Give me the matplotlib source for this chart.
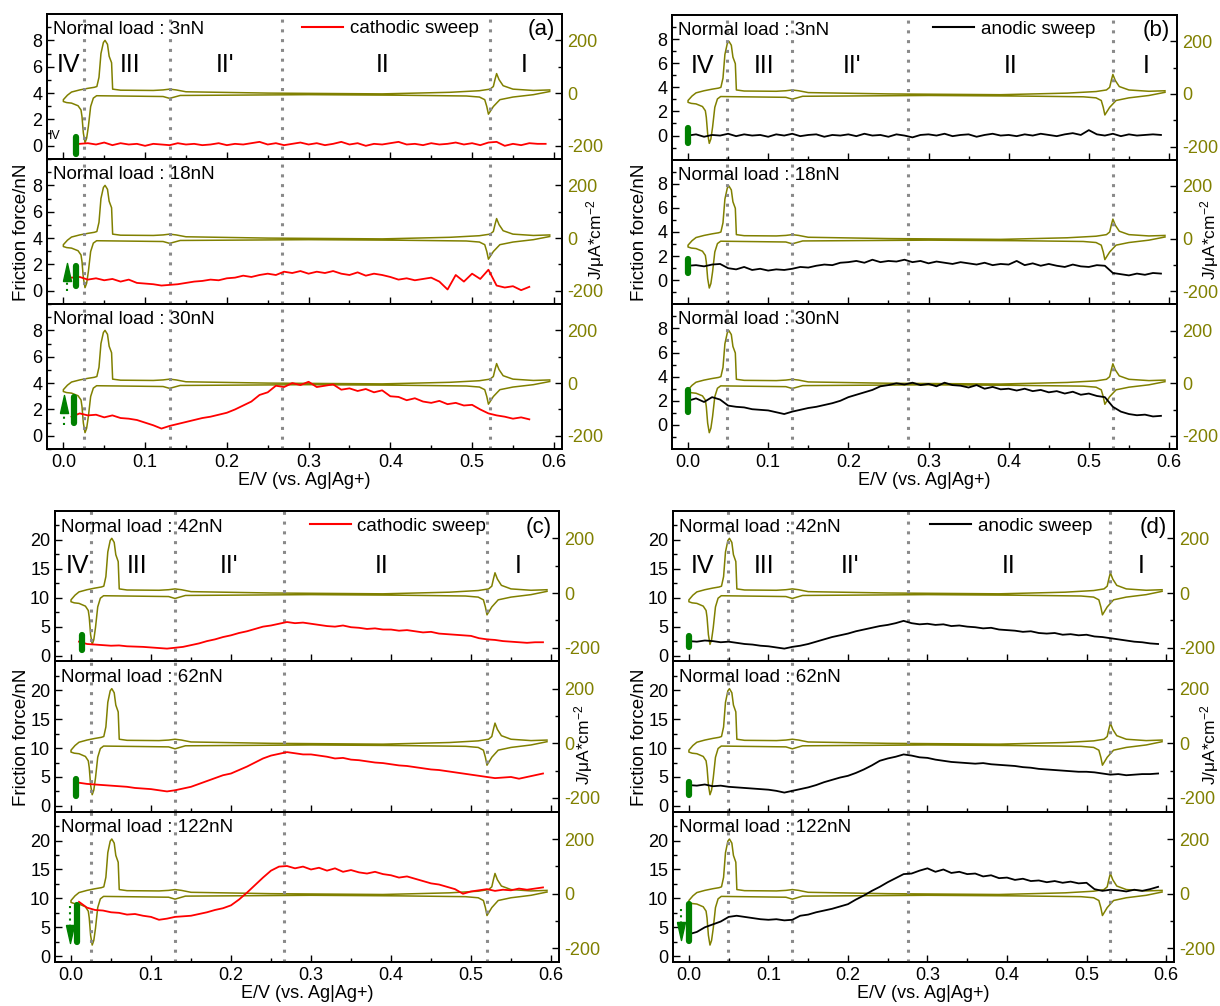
import matplotlib
matplotlib.use("Agg")
import matplotlib.pyplot as plt
import numpy as np
from matplotlib.lines import Line2D
from matplotlib.ticker import FixedLocator, MultipleLocator, FormatStrFormatter

plt.rcParams["font.family"] = ["Liberation Sans", "DejaVu Sans"]
plt.rcParams["axes.unicode_minus"] = False
plt.rcParams["mathtext.fontset"] = "custom"
plt.rcParams["mathtext.rm"] = "Liberation Sans"
plt.rcParams["mathtext.it"] = "Liberation Sans:italic"

OLIVE = "#808000"
GREEN = "#008000"
GREY = "#8a8a8a"

# potential grid of the friction traces (V vs. Ag|Ag+)
E_GRID = [0.00, 0.01, 0.02, 0.03, 0.04, 0.05, 0.06, 0.07, 0.08, 0.09,
          0.10, 0.11, 0.12, 0.13, 0.14, 0.15, 0.16, 0.17, 0.18, 0.19,
          0.20, 0.21, 0.22, 0.23, 0.24, 0.25, 0.26, 0.27, 0.28, 0.29,
          0.30, 0.31, 0.32, 0.33, 0.34, 0.35, 0.36, 0.37, 0.38, 0.39,
          0.40, 0.41, 0.42, 0.43, 0.44, 0.45, 0.46, 0.47, 0.48, 0.49,
          0.50, 0.51, 0.52, 0.53, 0.54, 0.55, 0.56, 0.57, 0.58, 0.59]

# cyclic voltammogram, J in uA/cm2
CV_E_UP = [0.000, 0.005, 0.010, 0.020, 0.030, 0.038, 0.041, 0.0436, 0.046, 0.049,
           0.051, 0.054, 0.056, 0.059, 0.0603, 0.070, 0.110, 0.122, 0.130, 0.138,
           0.150, 0.250, 0.390, 0.473, 0.509, 0.522, 0.526, 0.528, 0.530, 0.533,
           0.538, 0.550, 0.575, 0.595]
CV_J_UP = [-25, -8, 4, 12, 18, 22, 25, 60, 150, 192,
           200, 185, 140, 115, 15, 11, 10, 12, 15, 12,
           5, 0, -3, 3, 9, 15, 25, 51, 74, 51,
           28, 15, 10, 12]
CV_E_DOWN = [0.000, 0.004, 0.010, 0.018, 0.0216, 0.0228, 0.0245, 0.0265, 0.0285, 0.0306,
             0.0334, 0.0367, 0.0407, 0.122, 0.130, 0.143, 0.300, 0.410, 0.493, 0.509,
             0.5155, 0.518, 0.520, 0.526, 0.534, 0.550, 0.575, 0.595]
CV_J_DOWN = [-32, -36, -38, -48, -64, -89, -152, -188, -171, -127,
             -51, -19, -10, -13, -20, -9, -6, -8, -11, -15,
             -25, -51, -80, -51, -25, -15, -6, 6]

# friction force traces (nN), one value per E_GRID point, None = no data
FRIC_A_3 = [None, None, 0.15, 0.2, 0.1, 0.25, 0.05, 0.2, 0.1, 0.15,
            0.0, 0.15, 0.1, 0.05, 0.2, 0.1, 0.15, 0.05, 0.1, 0.2,
            0.05, 0.15, 0.1, 0.2, 0.3, 0.1, 0.2, 0.05, 0.15, 0.25,
            0.1, 0.2, 0.05, 0.15, 0.3, 0.1, 0.2, 0.0, 0.15, 0.1,
            0.2, 0.3, 0.1, 0.15, 0.05, 0.2, 0.1, 0.15, 0.25, 0.1,
            0.2, 0.05, 0.25, 0.3, 0.0, 0.15, 0.05, 0.2, 0.15, 0.15]
FRIC_A_18 = [None, 1.0, 1.05, 0.85, 0.95, 0.8, 0.9, 0.7, 0.85, 0.6,
             0.55, 0.5, 0.4, 0.45, 0.5, 0.6, 0.7, 0.75, 0.85, 0.8,
             0.95, 1.0, 1.15, 1.05, 1.2, 1.3, 1.2, 1.45, 1.35, 1.5,
             1.3, 1.45, 1.35, 1.5, 1.3, 1.2, 1.4, 1.15, 1.3, 1.2,
             1.05, 0.85, 0.95, 0.8, 0.9, 1.0, 0.7, 0.1, 1.2, 0.7,
             1.3, 0.9, 1.6, 0.4, 0.25, 0.35, 0.05, 0.3, None, None]
FRIC_A_30 = [None, 1.45, 1.7, 1.55, 1.6, 1.4, 1.55, 1.35, 1.3, 1.2,
             1.0, 0.8, 0.55, 0.75, 0.9, 1.05, 1.2, 1.35, 1.45, 1.6,
             1.75, 2.0, 2.3, 2.6, 3.1, 3.3, 3.8, 3.7, 4.0, 3.85,
             4.1, 3.7, 3.8, 3.9, 3.5, 3.6, 3.4, 3.55, 3.3, 3.45,
             3.0, 2.95, 2.7, 2.85, 2.6, 2.5, 2.65, 2.4, 2.5, 2.3,
             2.35, 2.0, 1.7, 1.55, 1.45, 1.3, 1.4, 1.25, None, None]

FRIC_B_3 = [0.0, 0.1, -0.1, 0.05, 0.0, 0.15, -0.05, 0.1, 0.0, 0.05,
            -0.1, 0.1, 0.0, 0.15, -0.05, 0.05, 0.1, -0.1, 0.05, 0.0,
            0.1, -0.05, 0.15, 0.0, 0.05, -0.1, 0.1, 0.0, -0.15, 0.05,
            0.1, 0.0, 0.15, -0.05, 0.05, 0.1, -0.1, 0.05, 0.15, 0.0,
            0.05, -0.05, 0.1, 0.0, 0.15, 0.05, -0.05, 0.1, 0.2, 0.05,
            0.45, 0.1, 0.0, 0.15, -0.05, 0.1, 0.0, 0.05, 0.1, 0.05]
FRIC_B_18 = [1.2, 1.25, 1.15, 1.3, 1.35, 1.0, 0.9, 1.1, 0.85, 0.95,
             0.8, 0.9, 0.85, 0.95, 1.1, 1.05, 1.2, 1.3, 1.25, 1.45,
             1.5, 1.6, 1.45, 1.7, 1.5, 1.6, 1.55, 1.7, 1.5, 1.6,
             1.4, 1.55, 1.45, 1.35, 1.5, 1.4, 1.3, 1.45, 1.25, 1.35,
             1.3, 1.6, 1.25, 1.4, 1.2, 1.35, 1.2, 1.1, 1.3, 1.15,
             1.1, 1.25, 1.2, 0.6, 0.5, 0.4, 0.55, 0.45, 0.6, 0.55]
FRIC_B_30 = [2.0, 2.2, 1.9, 2.3, 2.1, 1.6, 1.5, 1.45, 1.3, 1.25,
             1.2, 1.05, 0.9, 1.1, 1.25, 1.4, 1.5, 1.65, 1.8, 2.0,
             2.3, 2.5, 2.7, 2.9, 3.2, 3.3, 3.45, 3.35, 3.5, 3.3,
             3.4, 3.2, 3.5, 3.3, 3.25, 3.1, 3.3, 3.0, 3.15, 2.95,
             3.0, 2.85, 3.0, 2.8, 2.9, 2.7, 2.8, 2.6, 2.75, 2.5,
             2.6, 2.4, 2.3, 1.5, 1.1, 0.9, 0.8, 0.85, 0.7, 0.75]

FRIC_C_42 = [None, 2.4, 2.0, 1.9, 1.8, 1.7, 1.75, 1.6, 1.55, 1.5,
             1.4, 1.3, 1.2, 1.35, 1.5, 1.8, 2.1, 2.5, 2.8, 3.2,
             3.5, 3.9, 4.2, 4.6, 5.0, 5.2, 5.5, 5.8, 5.6, 5.7,
             5.5, 5.3, 5.1, 5.0, 5.2, 4.9, 4.8, 4.6, 4.7, 4.5,
             4.5, 4.3, 4.4, 4.2, 4.0, 4.1, 3.8, 3.7, 3.6, 3.5,
             3.4, 3.0, 2.8, 2.7, 2.5, 2.4, 2.3, 2.2, 2.3, 2.3]
FRIC_C_62 = [None, 4.0, 3.8, 3.7, 3.6, 3.5, 3.4, 3.3, 3.1, 3.0,
             2.9, 2.7, 2.5, 2.7, 3.0, 3.3, 3.8, 4.3, 4.8, 5.3,
             5.6, 6.2, 6.8, 7.5, 8.2, 8.7, 9.0, 9.3, 9.1, 8.9,
             8.9, 8.7, 8.5, 8.2, 8.3, 8.0, 7.9, 7.7, 7.5, 7.4,
             7.2, 7.0, 6.9, 6.7, 6.5, 6.3, 6.2, 6.0, 5.8, 5.6,
             5.4, 5.2, 5.0, 4.8, 4.9, 5.0, 4.7, 5.0, 5.3, 5.6]
FRIC_C_122 = [None, 9.4, 8.4, 8.0, 7.9, 7.6, 7.5, 7.2, 7.3, 7.0,
              6.8, 6.3, 6.5, 6.8, 6.9, 7.0, 7.3, 7.6, 8.0, 8.3,
              8.8, 9.8, 11.0, 12.3, 13.6, 14.8, 15.5, 15.6, 15.2, 15.5,
              15.0, 15.3, 14.8, 15.2, 14.6, 14.9, 14.5, 14.3, 14.6, 14.2,
              14.0, 13.6, 13.8, 13.4, 13.0, 12.6, 12.4, 12.0, 11.6, 10.8,
              11.2, 11.4, 11.6, 11.3, 11.5, 11.4, 11.7, 11.5, 11.7, 11.9]

FRIC_D_42 = [2.5, 2.4, 2.6, 2.5, 2.3, 2.4, 2.2, 2.0, 1.9, 1.7,
             1.6, 1.4, 1.2, 1.5, 1.7, 2.0, 2.4, 2.8, 3.2, 3.5,
             3.8, 4.2, 4.5, 4.8, 5.1, 5.3, 5.6, 6.0, 5.6, 5.4,
             5.5, 5.3, 5.4, 5.1, 5.2, 5.0, 4.9, 4.7, 4.8, 4.5,
             4.4, 4.3, 4.1, 4.2, 3.9, 3.8, 3.9, 3.6, 3.7, 3.5,
             3.6, 3.3, 3.2, 3.0, 2.8, 2.6, 2.4, 2.3, 2.1, 2.0]
FRIC_D_62 = [3.6, 3.5, 3.7, 3.4, 3.5, 3.3, 3.2, 3.1, 3.0, 2.9,
             2.8, 2.6, 2.3, 2.6, 2.9, 3.2, 3.6, 4.1, 4.5, 4.9,
             5.2, 5.7, 6.3, 7.0, 7.8, 8.2, 8.5, 8.9, 8.7, 8.4,
             8.3, 8.0, 7.8, 7.6, 7.5, 7.4, 7.3, 7.4, 7.2, 7.1,
             7.0, 6.9, 6.7, 6.6, 6.4, 6.3, 6.2, 6.1, 6.0, 5.9,
             5.9, 5.8, 5.6, 5.4, 5.5, 5.3, 5.4, 5.5, 5.5, 5.6]
FRIC_D_122 = [3.8, 4.2, 5.0, 5.5, 6.0, 6.8, 7.0, 6.8, 6.6, 6.4,
              6.3, 6.4, 6.2, 6.3, 7.0, 7.2, 7.6, 7.9, 8.2, 8.6,
              9.0, 9.8, 10.5, 11.3, 12.0, 12.8, 13.5, 14.2, 14.3, 14.8,
              15.2, 14.6, 15.0, 14.4, 14.6, 14.2, 14.3, 13.8, 14.0, 13.5,
              13.6, 13.2, 13.4, 13.0, 13.1, 12.8, 13.0, 12.7, 12.9, 12.6,
              12.7, 11.6, 11.3, 11.5, 11.4, 11.2, 11.5, 11.3, 11.6, 12.0]

# green blobs of the starting friction (E, low, high) per subplot
BLOB_A_E = [0.016, 0.015, 0.013]
BLOB_A_LO = [-0.65, 0.35, 0.95]
BLOB_A_HI = [0.65, 1.85, 2.95]
BLOB_B_E = [0.0, 0.0, 0.0]
BLOB_B_LO = [-0.65, 0.6, 1.1]
BLOB_B_HI = [0.65, 1.8, 2.9]
BLOB_C_E = [0.014, 0.006, 0.008]
BLOB_C_LO = [1.0, 1.7, 2.5]
BLOB_C_HI = [3.5, 4.7, 8.8]
BLOB_D_E = [0.0, 0.0, 0.0]
BLOB_D_LO = [1.4, 1.9, 2.6]
BLOB_D_HI = [3.3, 4.2, 9.0]

# green arrows: (subplot index, E, tail, tip)
ARROWS_A = [(1, 0.004, 0.0, 1.9), (2, 0.001, 0.8, 2.9)]
ARROWS_B = []
ARROWS_C = [(2, -0.001, 8.6, 2.9)]
ARROWS_D = [(2, -0.0105, 8.1, 3.3)]

LOADS_AB = ["3nN", "18nN", "30nN"]
LOADS_CD = ["42nN", "62nN", "122nN"]
NUMERALS = ["IV", "III", "II'", "II", "I"]
NUM_E_A = [0.006, 0.082, 0.198, 0.391, 0.564]
NUM_E_B = [0.0175, 0.095, 0.204, 0.4025, 0.571]
NUM_E_C = [0.0075, 0.082, 0.198, 0.388, 0.559]
NUM_E_D = [0.0175, 0.094, 0.2025, 0.4025, 0.569]
VLINES_A = [0.025, 0.13, 0.267, 0.522]
VLINES_B = [0.049, 0.13, 0.275, 0.53]
VLINES_C = [0.025, 0.13, 0.266, 0.52]
VLINES_D = [0.049, 0.13, 0.275, 0.53]

W, H = 1220, 1006
fig = plt.figure(figsize=(W / 100, H / 100), dpi=100)


def tri_marker(up):
    s = 1 if up else -1
    return [(-0.45, -s * 1.0), (0.45, -s * 1.0), (0.0, s * 1.0), (-0.45, -s * 1.0)]


def draw_panel(box, loads, traces, line_color, sweep, tag, vlines, ylim, yticks, yminor,
               num_e, num_y, blob_e, blob_lo, blob_hi, arrows, legend_x):
    left, bottom, width, height = box
    h = height / 3
    E = np.array(E_GRID)
    cv_e = np.concatenate([CV_E_DOWN[::-1], CV_E_UP])
    cv_j = np.concatenate([CV_J_DOWN[::-1], CV_J_UP])
    axes = []
    for k in range(3):
        ax = fig.add_axes([left, bottom + (2 - k) * h, width, h])
        tw = ax.twinx()
        ax.set_zorder(tw.get_zorder() + 1)
        ax.patch.set_visible(False)

        tw.plot(cv_e, cv_j, color=OLIVE, lw=1.1)
        tw.set_ylim(-250, 300)
        tw.yaxis.set_major_locator(FixedLocator([-200, 0, 200]))
        tw.yaxis.set_minor_locator(FixedLocator([-100, 100]))
        tw.tick_params(axis="y", which="both", direction="in", labelsize=13, labelcolor=OLIVE, width=1)
        tw.tick_params(axis="y", which="major", length=5)
        tw.tick_params(axis="y", which="minor", length=3)

        y = np.array([np.nan if v is None else v for v in traces[k]], dtype=float)
        ax.plot(E, y, color=line_color, lw=1.3, zorder=3)
        for xv in vlines:
            ax.axvline(xv, color=GREY, ls=(0, (1, 2.2)), lw=2.2, zorder=1)
        ax.plot([blob_e[k], blob_e[k]], [blob_lo[k], blob_hi[k]], color=GREEN, lw=4.5,
                solid_capstyle="round", zorder=4)
        for idx, xa, tail, tip in arrows:
            if idx != k:
                continue
            up = tip > tail
            head = 0.9 if ylim[1] < 15 else 2.0
            ax.plot([xa, xa], [tail, tip - (head if up else -head)], color=GREEN, lw=1.5,
                    ls=(0, (1, 2)), zorder=4)
            ax.plot([xa], [tip - (head / 2 if up else -head / 2)], marker=tri_marker(up),
                    color=GREEN, markersize=13, zorder=4, lw=0)

        ax.set_xlim(-0.02, 0.61)
        ax.set_ylim(*ylim)
        ax.yaxis.set_major_locator(FixedLocator(yticks))
        ax.yaxis.set_minor_locator(FixedLocator(yminor))
        ax.xaxis.set_major_locator(MultipleLocator(0.1))
        ax.xaxis.set_minor_locator(MultipleLocator(0.05))
        ax.xaxis.set_major_formatter(FormatStrFormatter("%.1f"))
        ax.tick_params(which="both", direction="in", labelsize=13, width=1)
        ax.tick_params(which="major", length=5)
        ax.tick_params(which="minor", length=3)
        if k < 2:
            ax.tick_params(axis="x", labelbottom=False)
        for sp in list(ax.spines.values()) + list(tw.spines.values()):
            sp.set_linewidth(1.3)

        ax.text(0.012, 0.893, "Normal load : " + loads[k], transform=ax.transAxes,
                fontsize=13.5, va="center", ha="left", zorder=6)
        axes.append(ax)

    top = axes[0]
    for lab, xe in zip(NUMERALS, num_e):
        top.text(xe, num_y, lab, fontsize=18, ha="center", va="center")
    top.text(0.986, 0.893, tag, transform=top.transAxes, fontsize=16, ha="right", va="center")
    handle = Line2D([], [], color=line_color, lw=1.5)
    top.legend([handle], [sweep], loc="center left", bbox_to_anchor=(legend_x, 0.9),
               frameon=False, fontsize=13.5, handlelength=2.2, handletextpad=0.35,
               borderpad=0, borderaxespad=0)
    return axes


ax_a = draw_panel((47 / W, 1 - 449 / H, 515 / W, 435 / H), LOADS_AB, [FRIC_A_3, FRIC_A_18, FRIC_A_30],
                  "red", "cathodic sweep", "(a)", VLINES_A, (-1, 10), [0, 2, 4, 6, 8], [-1, 1, 3, 5, 7, 9],
                  NUM_E_A, 6.1, BLOB_A_E, BLOB_A_LO, BLOB_A_HI, ARROWS_A, 0.495)
ax_b = draw_panel((672 / W, 1 - 449 / H, 505 / W, 434 / H), LOADS_AB, [FRIC_B_3, FRIC_B_18, FRIC_B_30],
                  "black", "anodic sweep", "(b)", VLINES_B, (-2, 10), [0, 2, 4, 6, 8], [-1, 1, 3, 5, 7, 9],
                  NUM_E_B, 5.8, BLOB_B_E, BLOB_B_LO, BLOB_B_HI, ARROWS_B, 0.517)
ax_c = draw_panel((55 / W, 1 - 962 / H, 504 / W, 451 / H), LOADS_CD, [FRIC_C_42, FRIC_C_62, FRIC_C_122],
                  "red", "cathodic sweep", "(c)", VLINES_C, (-1, 25), [0, 5, 10, 15, 20],
                  [2.5, 7.5, 12.5, 17.5, 22.5], NUM_E_C, 15.5, BLOB_C_E, BLOB_C_LO, BLOB_C_HI, ARROWS_C, 0.505)
ax_d = draw_panel((673 / W, 1 - 962 / H, 501 / W, 451 / H), LOADS_CD, [FRIC_D_42, FRIC_D_62, FRIC_D_122],
                  "black", "anodic sweep", "(d)", VLINES_D, (-1, 25), [0, 5, 10, 15, 20],
                  [2.5, 7.5, 12.5, 17.5, 22.5], NUM_E_D, 15.5, BLOB_D_E, BLOB_D_LO, BLOB_D_HI, ARROWS_D, 0.513)

ax_a[0].text(-0.011, 0.75, "IV", fontsize=9, ha="center", va="center")

for axs in (ax_a, ax_b, ax_c, ax_d):
    axs[2].set_xlabel("E/V (vs. Ag|Ag+)", fontsize=13, labelpad=1)

JLAB = "J/μA*cm$^{-2}$"
for xl, yc in ((22, 232), (640, 232), (22, 737), (640, 737)):
    fig.text(xl / W, 1 - yc / H, "Friction force/nN", rotation=90, fontsize=13.5, ha="center", va="center")
for xl, yc in ((596, 240), (1210, 240), (584, 745), (1210, 745)):
    fig.text(xl / W, 1 - yc / H, JLAB, rotation=90, fontsize=12.5, ha="center", va="center")

fig.savefig("out.png", dpi=100)
